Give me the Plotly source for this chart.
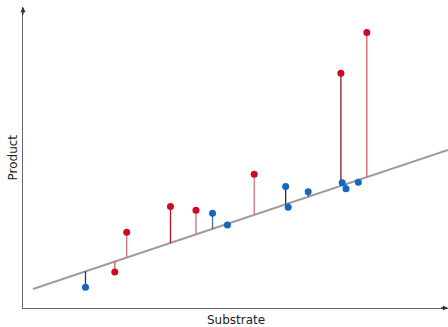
import plotly.graph_objects as go

# Data
substrate = [1.47, 2.16, 2.44, 3.47, 4.07, 4.46, 4.81, 5.44, 6.18, 6.24, 6.71, 7.51, 7.60, 7.89, 7.48, 8.09]
product   = [0.69, 1.20, 2.52, 3.37, 3.25, 3.15, 2.76, 4.44, 4.04, 3.35, 3.86, 4.16, 3.96, 4.18, 7.80, 9.15]
group     = ["B", "R", "R", "R", "R", "B", "B", "R", "B", "B", "B", "B", "B", "B", "R", "R"]

fit_intercept = 0.52
fit_slope = 0.473
fit_x = [0.235, 10.0]

x_title = "Substrate"
y_title = "Product"

# styling
point_color = {"B": "#1366c4", "R": "#cc0a22"}
resid_color = ["#1d3d66", "#d2545e", "#d2727a", "#c2101e", "#cf6e76", "#4d6f8f", "#4d6f8f",
               "#d2727a", "#1c3350", "#1c3350", "#3d5a78", "#3d5a78", "#3d5a78", "#3d5a78",
               "#8c1414", "#d25f68"]

fig = go.Figure()

# regression line
fig.add_trace(go.Scatter(
    x=fit_x, y=[fit_intercept + fit_slope * v for v in fit_x],
    mode="lines", line=dict(color="#9c9c9c", width=2), hoverinfo="skip", showlegend=False,
    cliponaxis=False))

# residual segments
for xi, yi, c in zip(substrate, product, resid_color):
    fit_y = fit_intercept + fit_slope * xi
    fig.add_trace(go.Scatter(
        x=[xi, xi], y=[yi, fit_y], mode="lines",
        line=dict(color=c, width=1.3), hoverinfo="skip", showlegend=False))

# points
fig.add_trace(go.Scatter(
    x=substrate, y=product, mode="markers",
    marker=dict(size=7, color=[point_color[g] for g in group]),
    showlegend=False))

axis_common = dict(showgrid=False, zeroline=False, showticklabels=False, ticks="",
                   showline=True, linecolor="#6a6a6a", linewidth=1.3, automargin=False)

fig.update_layout(
    width=448, height=327,
    margin=dict(l=23, r=0, t=7, b=19),
    plot_bgcolor="white", paper_bgcolor="white",
    font=dict(family="DejaVu Sans", size=12, color="#222222"),
    xaxis=dict(range=[0, 10], **axis_common),
    yaxis=dict(range=[0, 10], **axis_common),
)

# axis titles
fig.add_annotation(text=x_title, xref="paper", yref="paper", x=0.5, y=0, yshift=-12,
                   showarrow=False, xanchor="center", yanchor="middle",
                   font=dict(size=12, color="#222222"))
fig.add_annotation(text=y_title, xref="paper", yref="paper", x=0, y=0.5, xshift=-11,
                   showarrow=False, xanchor="center", yanchor="middle", textangle=-90,
                   font=dict(size=12, color="#222222"))

# arrow heads on the axes
fig.add_annotation(x=10, y=0, ax=9.8, ay=0, xref="x", yref="y", axref="x", ayref="y",
                   showarrow=True, arrowhead=2, arrowsize=0.8, arrowwidth=1.3,
                   arrowcolor="#333333", text="")
fig.add_annotation(x=0, y=10, ax=0, ay=9.7, xref="x", yref="y", axref="x", ayref="y",
                   showarrow=True, arrowhead=2, arrowsize=0.8, arrowwidth=1.3,
                   arrowcolor="#333333", text="")

fig.write_html("out.html", config={"displayModeBar": False},
               post_script="document.body.style.margin='0';document.body.style.overflow='hidden';")
